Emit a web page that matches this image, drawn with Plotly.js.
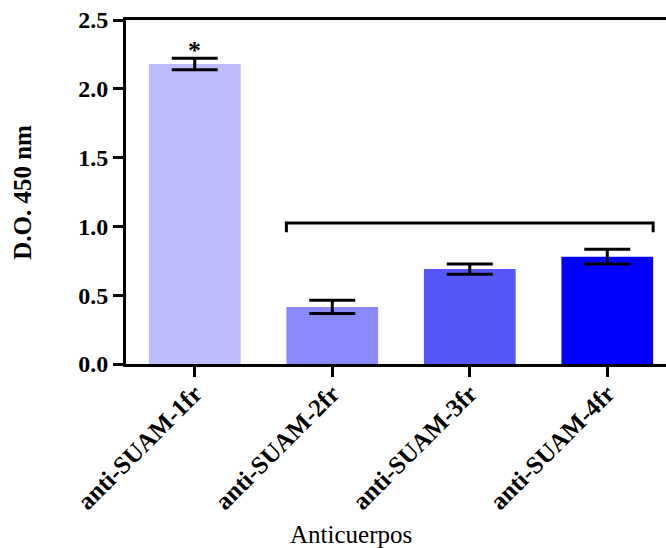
<!DOCTYPE html>
<html>
<head>
<meta charset="utf-8">
<script src="https://cdn.plot.ly/plotly-3.0.1.min.js"></script>
<style>html,body{margin:0;padding:0;background:#fff}</style>
</head>
<body>
<div id="chart" style="width:666px;height:548px"></div>
<script>
const categories = ["anti-SUAM-1fr", "anti-SUAM-2fr", "anti-SUAM-3fr", "anti-SUAM-4fr"];
const values = [2.18, 0.415, 0.69, 0.78];
const errors = [0.042, 0.048, 0.037, 0.054];
const colors = ["#BDBDFD", "#8B8BFD", "#5757F5", "#0000FF"];
const yTicks = [0, 0.5, 1.0, 1.5, 2.0, 2.5];
const bracketLevel = 1.025;
const bracketDrop = 0.068;
const barWidth = 0.667;

const serif = "Liberation Serif, Times New Roman, serif";
const xIdx = categories.map((c, i) => i);

const trace = {
  type: "bar",
  x: xIdx,
  y: values,
  width: barWidth,
  marker: {color: colors, line: {width: 0}},
  error_y: {type: "data", array: errors, visible: true, color: "#000", thickness: 3, width: 23},
  hoverinfo: "none"
};

const bl = 1 - barWidth / 2, br = 3 + barWidth / 2;
const layout = {
  width: 666, height: 548,
  margin: {l: 126, r: 0, t: 20, b: 184},
  paper_bgcolor: "#fff", plot_bgcolor: "#fff",
  showlegend: false,
  xaxis: {
    range: [-0.5, 3.427],
    tickvals: xIdx, ticktext: categories,
    tickangle: -45,
    tickfont: {family: serif, size: 25, color: "#000", weight: "bold"},
    ticks: "outside", ticklen: 10, tickwidth: 3, tickcolor: "#000",
    ticklabelstandoff: -8,
    showline: true, linewidth: 3, linecolor: "#000", mirror: true,
    showgrid: false, zeroline: false, fixedrange: true
  },
  yaxis: {
    range: [0, 2.5],
    tickvals: yTicks, tickformat: ".1f",
    tickfont: {family: serif, size: 24, color: "#000", weight: "bold"},
    ticks: "outside", ticklen: 10, tickwidth: 3, tickcolor: "#000",
    ticklabelstandoff: 0,
    showline: true, linewidth: 3, linecolor: "#000",
    showgrid: false, zeroline: false, fixedrange: true
  },
  shapes: [{
    type: "path", xref: "x", yref: "y",
    path: `M ${bl} ${bracketLevel - bracketDrop} L ${bl} ${bracketLevel} L ${br} ${bracketLevel} L ${br} ${bracketLevel - bracketDrop}`,
    line: {color: "#000", width: 3}
  }],
  annotations: [
    {text: "*", x: 0, y: values[0] + errors[0] + 0.06, xref: "x", yref: "y",
     showarrow: false, yanchor: "middle", font: {family: serif, size: 26, color: "#000", weight: "bold"}},
    {text: "D.O. 450 nm", x: -0.193, y: 0.5, xref: "paper", yref: "paper", textangle: -90,
     showarrow: false, xanchor: "center", yanchor: "middle",
     font: {family: serif, size: 25, color: "#000", weight: "bold"}},
    {text: "Anticuerpos", x: 0.4167, y: -0.497, xref: "paper", yref: "paper",
     showarrow: false, xanchor: "center", yanchor: "middle",
     font: {family: serif, size: 25, color: "#000"}}
  ]
};

Plotly.newPlot("chart", [trace], layout, {displayModeBar: false, staticPlot: true});
</script>
</body>
</html>
